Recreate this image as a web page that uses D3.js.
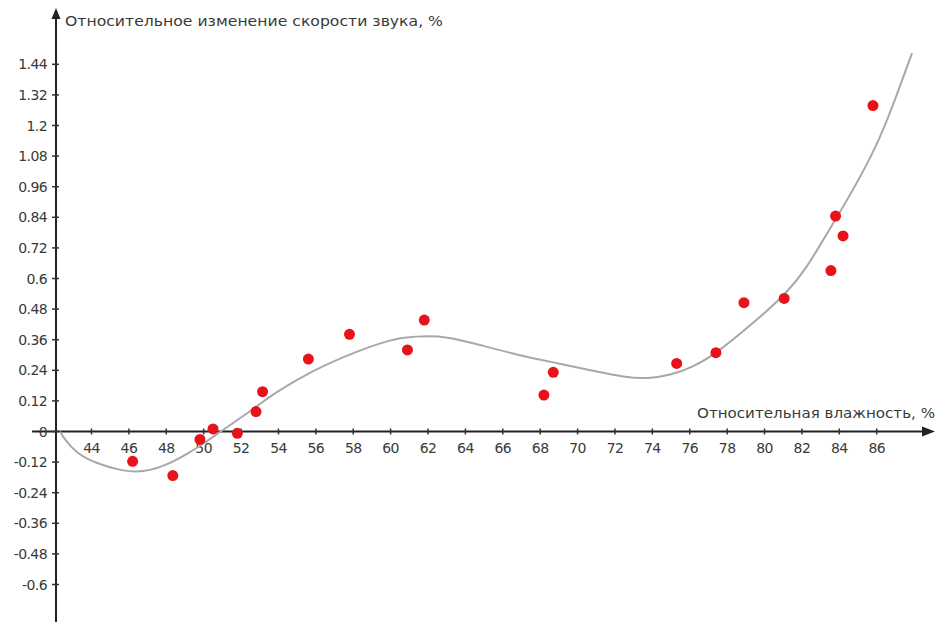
<!DOCTYPE html>
<html>
<head>
<meta charset="utf-8">
<script src="https://cdn.jsdelivr.net/npm/d3@7"></script>
<style>
  body { margin: 0; background: #fff; }
  text { font-family: "DejaVu Sans", "Liberation Sans", sans-serif; fill: #3a3a3a; }
</style>
</head>
<body>
<svg id="chart" width="936" height="622"></svg>
<script>
// measured points (humidity %, relative change %)
const humidity = [46.2, 48.35, 49.8, 50.5, 51.8, 52.8, 53.15, 55.6, 57.8, 60.9, 61.8, 68.2, 68.7,
                  75.3, 77.4, 78.9, 81.05, 83.55, 83.8, 84.2, 85.8];
const speedChange = [-0.117, -0.173, -0.031, 0.01, -0.007, 0.078, 0.156, 0.284, 0.381, 0.32, 0.437, 0.143, 0.232,
                     0.267, 0.309, 0.505, 0.522, 0.631, 0.845, 0.767, 1.278];

// fitted trend curve
const curveX = [42.32, 42.48, 43.17, 44.24, 45.68, 46.75, 47.98, 49.21, 49.96, 50.87, 51.73, 52.8, 53.71,
                55.85, 58.2, 59.59, 60.66, 62.11, 63.02, 64.09, 66.76, 69.06, 70.83, 72.65, 73.72, 74.95,
                76.18, 77.46, 79.39, 81.21, 82.28, 83.13, 84.2, 85.27, 86.18, 86.98, 87.89];
const curveY = [0, -0.022, -0.085, -0.125, -0.156, -0.16, -0.134, -0.084, -0.049, -0.002, 0.041, 0.096, 0.147,
                0.241, 0.315, 0.35, 0.37, 0.375, 0.37, 0.353, 0.3, 0.266, 0.238, 0.211, 0.207, 0.22,
                0.253, 0.308, 0.425, 0.543, 0.645, 0.751, 0.88, 1.018, 1.151, 1.3, 1.484];

const xTicks = d3.range(44, 87, 2);
const yTicks = [1.44, 1.32, 1.2, 1.08, 0.96, 0.84, 0.72, 0.6, 0.48, 0.36, 0.24, 0.12, 0,
                -0.12, -0.24, -0.36, -0.48, -0.6];

const yTitle = 'Относительное изменение скорости звука, %';
const xTitle = 'Относительная влажность, %';

const svg = d3.select('#chart');

const x = d3.scaleLinear().domain([44, 86]).range([91.5, 876.7]);
const y = d3.scaleLinear().domain([0, 1.44]).range([431.5, 64.3]);

const axisX = 56;
const axisY = y(0);

// the axes
svg.append('line')
    .attr('x1', axisX).attr('x2', axisX)
    .attr('y1', 622).attr('y2', 16)
    .attr('stroke', '#222').attr('stroke-width', 2);
svg.append('path')
    .attr('d', `M${axisX},8 L${axisX - 4.5},19 L${axisX + 4.5},19 Z`)
    .attr('fill', '#222');

svg.append('line')
    .attr('x1', 32).attr('x2', 926)
    .attr('y1', axisY).attr('y2', axisY)
    .attr('stroke', '#222').attr('stroke-width', 2);
svg.append('path')
    .attr('d', `M935,${axisY} L922,${axisY - 5} L922,${axisY + 5} Z`)
    .attr('fill', '#222');

// y ticks
const yt = svg.append('g').selectAll('g')
    .data(yTicks)
    .enter()
    .append('g')
    .attr('transform', d => `translate(0,${y(d)})`);
yt.append('line')
    .attr('x1', axisX - 4).attr('x2', axisX + 3)
    .attr('stroke', '#333').attr('stroke-width', 1.5);
yt.append('text')
    .attr('x', axisX - 9)
    .attr('y', 5)
    .attr('text-anchor', 'end')
    .attr('font-size', 14)
    .attr('letter-spacing', -0.6)
    .text(d => d === 0 ? '0' : String(d));

// x ticks
const xt = svg.append('g').selectAll('g')
    .data(xTicks)
    .enter()
    .append('g')
    .attr('transform', d => `translate(${x(d)},${axisY})`);
xt.append('line')
    .attr('y1', -3).attr('y2', 3)
    .attr('stroke', '#333').attr('stroke-width', 1.5);
xt.append('text')
    .attr('y', 21)
    .attr('text-anchor', 'middle')
    .attr('font-size', 14)
    .attr('letter-spacing', -0.6)
    .text(d => d);

// titles
svg.append('text')
    .attr('x', 65).attr('y', 26)
    .attr('font-size', 14)
    .attr('textLength', 378)
    .attr('lengthAdjust', 'spacingAndGlyphs')
    .text(yTitle);
svg.append('text')
    .attr('x', 697).attr('y', 418)
    .attr('font-size', 14)
    .attr('textLength', 238)
    .attr('lengthAdjust', 'spacingAndGlyphs')
    .text(xTitle);

// trend curve (smoothed through the read-off points)
const line = d3.line()
    .x(d => x(d[0]))
    .y(d => y(d[1]))
    .curve(d3.curveBasis);
svg.append('path')
    .datum(d3.zip(curveX, curveY))
    .attr('d', line)
    .attr('fill', 'none')
    .attr('stroke', '#a8a8a8')
    .attr('stroke-width', 2);

// measured points
svg.append('g')
    .selectAll('circle')
    .data(d3.zip(humidity, speedChange))
    .enter()
    .append('circle')
    .attr('cx', d => x(d[0]))
    .attr('cy', d => y(d[1]))
    .attr('r', 5.5)
    .attr('fill', '#e8121a');
</script>
</body>
</html>
